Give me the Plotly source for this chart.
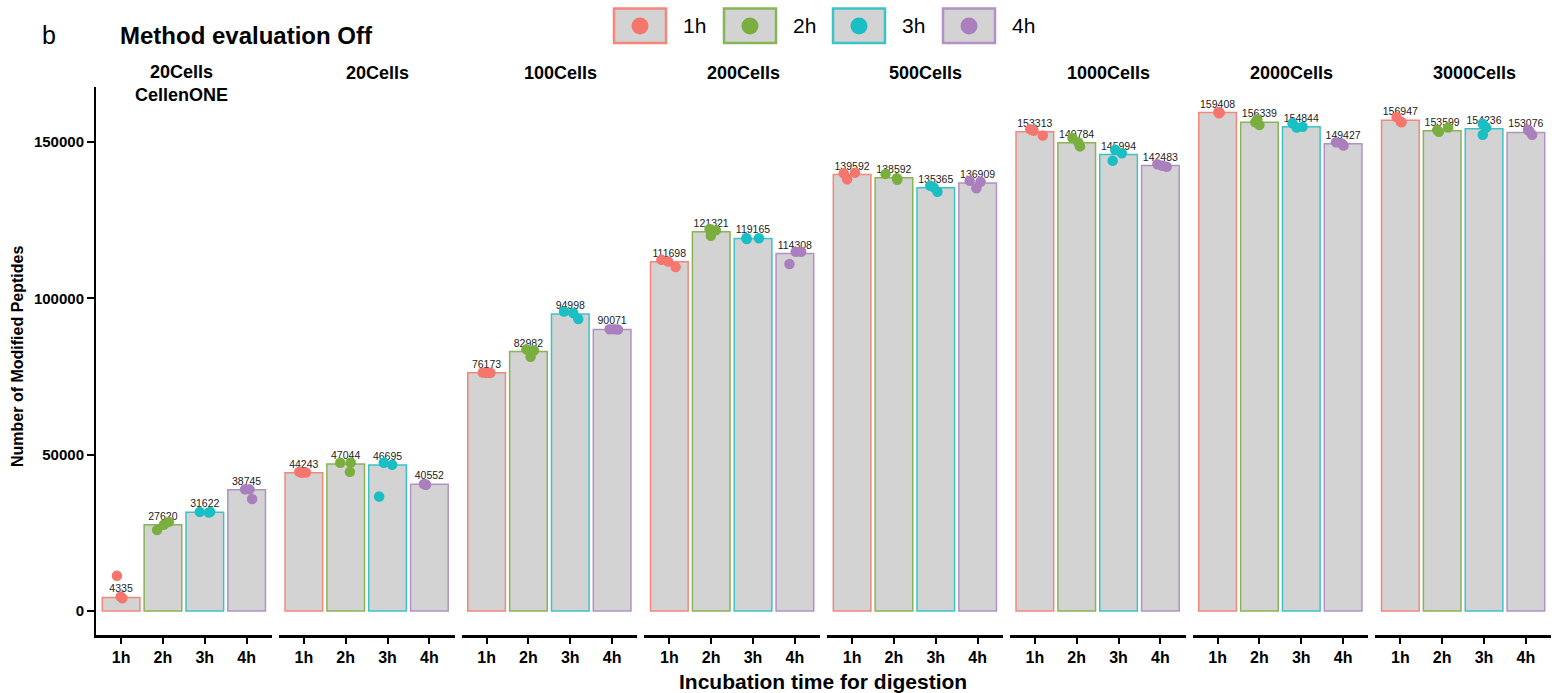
import plotly.graph_objects as go

# ---------------- data ----------------
facets = ["20Cells<br>CellenONE", "20Cells", "100Cells", "200Cells",
          "500Cells", "1000Cells", "2000Cells", "3000Cells"]
hours = ["1h", "2h", "3h", "4h"]
tick_labels = ["1h", "2h", "3h", "4h"]

mean_1h = [4335, 44243, 76173, 111698, 139592, 153313, 159408, 156947]
mean_2h = [27620, 47044, 82982, 121321, 138592, 149784, 156339, 153599]
mean_3h = [31622, 46695, 94998, 119165, 135365, 145994, 154844, 154236]
mean_4h = [38745, 40552, 90071, 114308, 136909, 142483, 149427, 153076]

reps_1h = [[11300, 4600, 4100], [44500, 44300, 44200], [76300, 76100, 76200],
           [112300, 111800, 110000], [140000, 140200, 138100], [154100, 153600, 152100],
           [159600, 159400, 159200], [158000, 156500, 156300]]
reps_2h = [[25900, 27600, 28500], [47400, 47500, 44500], [83700, 83300, 81300],
           [122200, 121800, 120000], [139800, 138400, 137900], [151300, 149800, 148600],
           [157300, 156300, 155400], [153800, 153300, 154600]]
reps_3h = [[31700, 31700, 31500], [47400, 46800, 36600], [95800, 95300, 93400],
           [119300, 119200, 119000], [136000, 135500, 134100], [147500, 146400, 144000],
           [156000, 154600, 154900], [155800, 154600, 152300]]
reps_4h = [[38900, 38900, 35800], [40600, 40500, 40400], [90100, 90100, 90000],
           [114900, 114900, 111000], [137600, 137300, 135200], [142900, 142400, 142100],
           [149900, 149500, 148900], [153900, 153500, 152300]]

# horizontal jitter of replicate dots (category units)
jit_1h = [[-0.1, -0.01, 0.03], [-0.11, 0.05, -0.05], [-0.09, 0.0, 0.09], [-0.19, -0.03, 0.15],
          [-0.2, 0.07, -0.12], [-0.11, -0.03, 0.19], [0.02, 0.05, 0.03], [-0.09, 0.01, 0.03]]
jit_2h = [[-0.14, 0.02, 0.14], [-0.13, 0.12, 0.1], [-0.05, 0.13, 0.05], [-0.04, 0.11, -0.01],
          [-0.2, 0.07, 0.08], [-0.1, 0.04, 0.08], [-0.05, -0.1, 0.0], [-0.12, -0.08, 0.14]]
jit_3h = [[-0.12, 0.13, 0.1], [-0.09, 0.11, -0.2], [-0.15, 0.07, 0.19], [-0.16, 0.14, -0.15],
          [-0.13, -0.05, 0.04], [-0.08, 0.08, -0.14], [-0.21, -0.11, 0.03], [-0.03, 0.05, -0.03]]
jit_4h = [[-0.04, 0.07, 0.13], [-0.13, -0.1, -0.08], [-0.06, 0.05, 0.14], [0.02, 0.15, -0.13],
          [-0.19, 0.07, -0.03], [-0.07, 0.05, 0.15], [-0.17, -0.03, 0.01], [0.05, 0.08, 0.15]]

y_ticks = [0, 50000, 100000, 150000]

# ---------------- styles ----------------
FONT = "Liberation Sans, Arial, sans-serif"
dot_colors = ["#F4766D", "#7AAF3F", "#1ABFC4", "#A97FBE"]
line_colors = ["#F4867E", "#88B553", "#3CC3C7", "#B391C5"]
BAR_FILL = "#D3D3D3"

means = [mean_1h, mean_2h, mean_3h, mean_4h]
reps = [reps_1h, reps_2h, reps_3h, reps_4h]
jits = [jit_1h, jit_2h, jit_3h, jit_4h]

W, H = 1552, 693
ML, MR, MT, MB = 96, 1, 87, 58
PW = W - ML - MR
PH = H - MT - MB
GAP = 7
FW = (PW - GAP * 7) / 8


def px_x(px):
    return (px - ML) / PW


def px_y(py):
    return (H - MB - py) / PH


fig = go.Figure()
xpos = [1, 2, 3, 4]

for f in range(8):
    xa = "x" if f == 0 else f"x{f+1}"
    vals = [means[h][f] for h in range(4)]
    fig.add_trace(go.Bar(
        x=xpos, y=vals, xaxis=xa, yaxis="y", width=0.9,
        marker=dict(color=BAR_FILL, line=dict(color=line_colors, width=1.5)),
        text=[str(v) for v in vals], textposition="outside",
        textfont=dict(family=FONT, size=10.5, color="#222222"),
        constraintext="none", cliponaxis=False, showlegend=False,
        hoverinfo="skip"))
    px_, py_, pc = [], [], []
    for h in range(4):
        for k in range(3):
            px_.append(xpos[h] + jits[h][f][k])
            py_.append(reps[h][f][k])
            pc.append(dot_colors[h])
    fig.add_trace(go.Scatter(
        x=px_, y=py_, xaxis=xa, yaxis="y", mode="markers",
        marker=dict(color=pc, size=10.5, line=dict(width=0)),
        cliponaxis=False, showlegend=False, hoverinfo="skip"))

layout = dict(
    width=W, height=H,
    margin=dict(l=ML, r=MR, t=MT, b=MB),
    paper_bgcolor="white", plot_bgcolor="white",
    showlegend=False,
    bargap=0.1,
    yaxis=dict(range=[-7676, 167590], tickvals=y_ticks,
               ticktext=[str(v) for v in y_ticks],
               showline=True, linecolor="black", linewidth=2,
               ticks="outside", ticklen=7, tickwidth=2, tickcolor="black",
               showgrid=False, zeroline=False, anchor="x",
               tickfont=dict(family=FONT, size=15, color="black", weight="bold")),
)
annotations = []
for f in range(8):
    key = "xaxis" if f == 0 else f"xaxis{f+1}"
    left = ML + f * (FW + GAP)
    d0, d1 = px_x(left), px_x(left + FW)
    layout[key] = dict(
        domain=[d0, d1], range=[0.4, 4.6], anchor="y",
        tickvals=xpos, ticktext=tick_labels,
        showline=True, linecolor="black", linewidth=2.5,
        ticks="outside", ticklen=6, tickwidth=2, tickcolor="black",
        showgrid=False, zeroline=False,
        tickfont=dict(family=FONT, size=16, color="black", weight="bold"))
    ycenter = 84 if f == 0 else 73
    shift = -2 if f == 0 else 11
    annotations.append(dict(
        text=facets[f], x=px_x(left + FW / 2 + shift), y=px_y(ycenter),
        xref="paper", yref="paper",
        xanchor="center", yanchor="middle", showarrow=False,
        font=dict(family=FONT, size=18, color="black", weight="bold")))

annotations += [
    dict(text="Incubation time for digestion", x=px_x(823), y=px_y(681),
         xref="paper", yref="paper", xanchor="center", yanchor="middle",
         showarrow=False, font=dict(family=FONT, size=21, color="black", weight="bold")),
    dict(text="Number of Modified Peptides", x=px_x(17), y=px_y(357),
         xref="paper", yref="paper", xanchor="center", yanchor="middle", textangle=-90,
         showarrow=False, font=dict(family=FONT, size=16, color="black", weight="bold")),
    dict(text="b", x=px_x(40), y=px_y(35), xref="paper", yref="paper",
         xanchor="left", yanchor="middle", showarrow=False,
         font=dict(family=FONT, size=25, color="black")),
    dict(text="Method evaluation Off", x=px_x(118), y=px_y(35), xref="paper", yref="paper",
         xanchor="left", yanchor="middle", showarrow=False,
         font=dict(family=FONT, size=24, color="black", weight="bold")),
]

# manual legend (box with dot inside)
shapes = []
box_left = [614, 724, 833, 943]
for i, hname in enumerate(hours):
    bl = box_left[i]
    shapes.append(dict(type="rect", xref="paper", yref="paper",
                       x0=px_x(bl), x1=px_x(bl + 52), y0=px_y(43), y1=px_y(8.5),
                       fillcolor=BAR_FILL, line=dict(color=line_colors[i], width=2.5)))
    shapes.append(dict(type="circle", xref="paper", yref="paper",
                       xsizemode="pixel", ysizemode="pixel",
                       xanchor=px_x(bl + 26), yanchor=px_y(26),
                       x0=-8.5, x1=8.5, y0=-8.5, y1=8.5,
                       fillcolor=dot_colors[i], line=dict(width=0)))
    annotations.append(dict(text=hname, x=px_x(bl + 67), y=px_y(26),
                            xref="paper", yref="paper", xanchor="left", yanchor="middle",
                            showarrow=False, font=dict(family=FONT, size=21, color="black")))

layout["annotations"] = annotations
layout["shapes"] = shapes
fig.update_layout(**layout)
fig.write_html("out.html", config={"displayModeBar": False},
               post_script="document.body.style.margin='0px';document.body.style.padding='0px';")
